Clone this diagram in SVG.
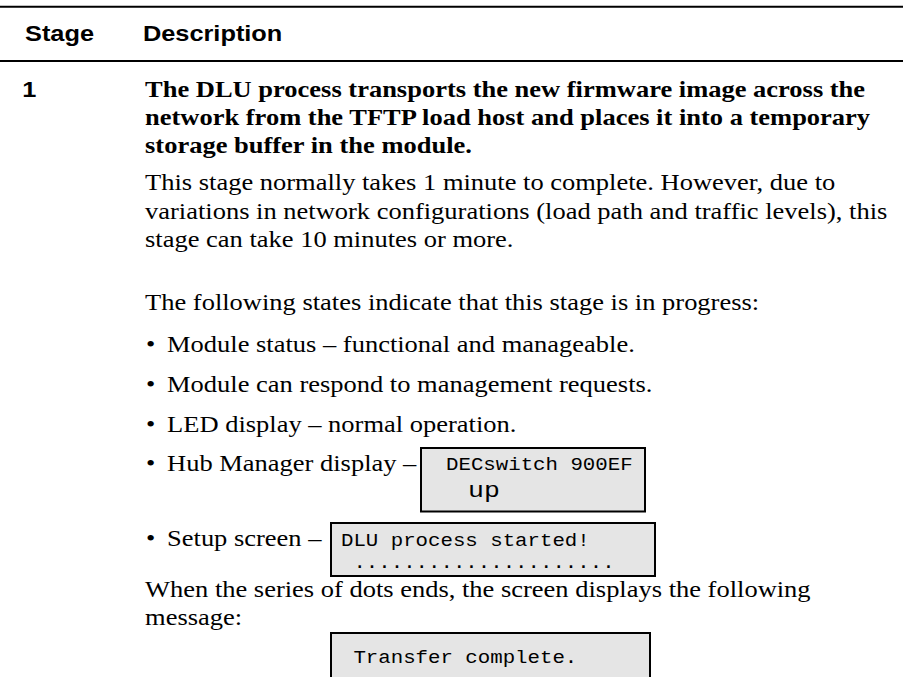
<svg xmlns="http://www.w3.org/2000/svg" width="903" height="677" viewBox="0 0 903 677">
<style>
.rule{stroke:#000;stroke-width:2;fill:none}
.box{fill:#e5e5e5;stroke:#000;stroke-width:2}
.hd{font-family:"Liberation Sans",Arial,sans-serif;font-weight:bold;font-size:22px;fill:#000}
.b{font-family:"Liberation Serif","Times New Roman",serif;font-weight:bold;font-size:23px;fill:#000}
.t{font-family:"Liberation Serif","Times New Roman",serif;font-size:23px;fill:#000}
.m{font-family:"Liberation Mono","Courier New",monospace;font-size:18px;fill:#000}
.mu{font-family:"Liberation Mono","Courier New",monospace;font-size:23px;fill:#000}
</style>
<rect width="903" height="677" fill="#fff"/>
<g id="rules">
<line class="rule" x1="0" y1="6.7" x2="903" y2="6.7"/>
<line class="rule" x1="0" y1="61" x2="903" y2="61"/>
</g>
<g id="boxes">
<rect id="hub-box" class="box" x="421" y="448" width="224" height="63.5"/>
<rect id="setup-box" class="box" x="331" y="523" width="324" height="53"/>
<rect id="transfer-box" class="box" x="331" y="633" width="319" height="60"/>
</g>
<g id="texts" transform="scale(1.152 1)">
<text class="hd" x="21.7" y="41">Stage</text>
<text class="hd" x="124.1" y="41">Description</text>
<text class="hd" x="19.4" y="97">1</text>
<text class="b" x="125.9" y="97">The DLU process transports the new firmware image across the</text>
<text class="b" x="125.9" y="125">network from the TFTP load host and places it into a temporary</text>
<text class="b" x="125.9" y="153">storage buffer in the module.</text>
<text class="t" x="125.9" y="190.5">This stage normally takes 1 minute to complete. However, due to</text>
<text class="t" x="125.9" y="219">variations in network configurations (load path and traffic levels), this</text>
<text class="t" x="125.9" y="247.5">stage can take 10 minutes or more.</text>
<text class="t" x="125.9" y="310">The following states indicate that this stage is in progress:</text>
<text class="t" x="126.7" y="351.7">•</text><text class="t" x="145" y="351.7">Module status – functional and manageable.</text>
<text class="t" x="126.7" y="391.7">•</text><text class="t" x="145" y="391.7">Module can respond to management requests.</text>
<text class="t" x="126.7" y="431.7">•</text><text class="t" x="145" y="431.7">LED display – normal operation.</text>
<text class="t" x="126.7" y="470.7">•</text><text class="t" x="145" y="470.7">Hub Manager display –</text>
<text class="m" x="387.2" y="470">DECswitch 900EF</text>
<text class="mu" x="406.3" y="497">up</text>
<text class="t" x="126.7" y="546">•</text><text class="t" x="145" y="546">Setup screen –</text>
<text class="m" x="296" y="546">DLU process started!</text>
<text class="m" x="306.8" y="568">.....................</text>
<text class="t" x="125.9" y="597">When the series of dots ends, the screen displays the following</text>
<text class="t" x="125.9" y="625.5">message:</text>
<text class="m" x="306.8" y="663">Transfer complete.</text>
</g>
</svg>
